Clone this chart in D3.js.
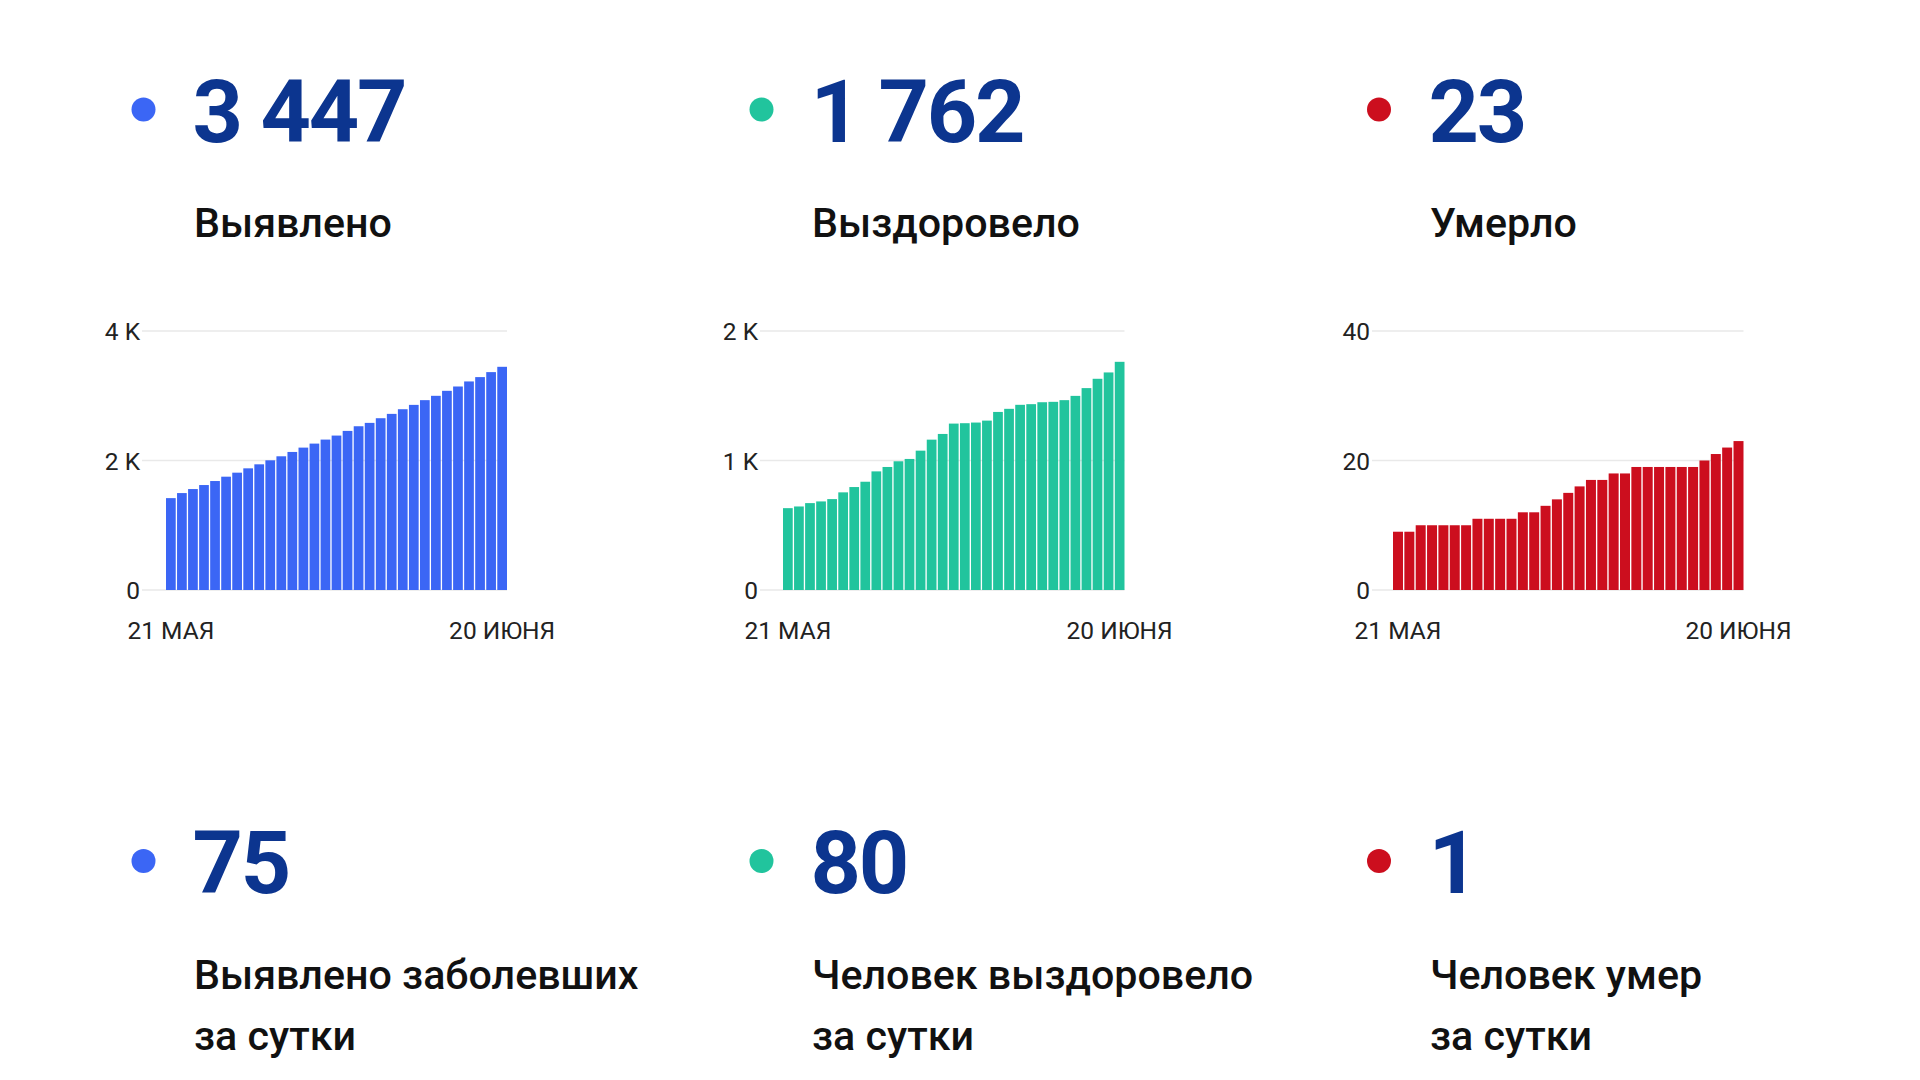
<!DOCTYPE html>
<html>
<head>
<meta charset="utf-8">
<script src="https://cdn.jsdelivr.net/npm/d3@7"></script>
<style>
  html, body { margin: 0; padding: 0; background: #fff; }
  svg { display: block; font-family: Roboto, "Noto Sans", sans-serif; }
</style>
</head>
<body>
<svg id="chart" width="1920" height="1080"></svg>
<script>
// ---------- DATA ----------
const days = ["21.05","22.05","23.05","24.05","25.05","26.05","27.05","28.05","29.05","30.05","31.05",
  "01.06","02.06","03.06","04.06","05.06","06.06","07.06","08.06","09.06","10.06",
  "11.06","12.06","13.06","14.06","15.06","16.06","17.06","18.06","19.06","20.06"];
const dayLabels = {"21.05": "21 МАЯ", "20.06": "20 ИЮНЯ"};

const detected = [1419,1497,1559,1621,1683,1750,1812,1879,1941,2003,2065,2132,2199,2261,2323,2385,
  2457,2529,2581,2653,2720,2792,2859,2932,2999,3076,3143,3221,3288,3365,3447];
const recovered = [632,645,671,684,702,754,795,836,916,950,994,1012,1076,1161,1205,1285,
  1288,1293,1308,1375,1399,1430,1435,1450,1453,1466,1499,1559,1631,1680,1762];
const deaths = [9,9,10,10,10,10,10,11,11,11,11,12,12,13,14,15,16,17,17,18,18,19,19,19,19,19,19,20,21,22,23];

const totals = ["3 447", "1 762", "23"];
const totalLabels = ["Выявлено", "Выздоровело", "Умерло"];
const daily = ["75", "80", "1"];
const dailyLabels = [["Выявлено заболевших", "за сутки"], ["Человек выздоровело", "за сутки"], ["Человек умер", "за сутки"]];

const yMax = [4000, 2000, 40];
const yTicks = [[0, 2000, 4000], [0, 1000, 2000], [0, 20, 40]];
const yTickLabels = [["0", "2 K", "4 K"], ["0", "1 K", "2 K"], ["0", "20", "40"]];

// ---------- STYLE / LAYOUT ----------
const colors = ["#3b66f5", "#21c49d", "#cc0e1e"];
const numColor = "#0c358f";
const textColor = "#111";
const axisColor = "#222";
const colText = [192.5, 810.5, 1428.5];
const colDot = [143.5, 761.5, 1379];
const panels = [
  {grid0: 142, bar0: 166, bar1: 507},
  {grid0: 760, bar0: 783, bar1: 1124.5},
  {grid0: 1372, bar0: 1393, bar1: 1743.5}
];
const yTop = 331, yBottom = 590;

const svg = d3.select("#chart");
const seriesList = [detected, recovered, deaths];

seriesList.forEach((series, i) => {
  const g = svg.append("g");

  // header
  g.append("circle").attr("cx", colDot[i]).attr("cy", 109.5).attr("r", 12).attr("fill", colors[i]);
  g.append("text").attr("x", colText[i]).attr("y", 142)
    .attr("font-size", 88).attr("font-weight", 700).attr("fill", numColor)
    .attr("letter-spacing", -2.2)
    .text(totals[i]);
  g.append("text").attr("x", colText[i] + 1.5).attr("y", 237)
    .attr("font-size", 41.2).attr("font-weight", 500).attr("fill", textColor)
    .text(totalLabels[i]);

  // chart
  const p = panels[i];
  const x = d3.scaleBand().domain(days).range([p.bar0, p.bar1]).paddingInner(0.12).paddingOuter(0);
  const y = d3.scaleLinear().domain([0, yMax[i]]).range([yBottom, yTop]);

  g.append("g").selectAll("line").data(yTicks[i]).join("line")
    .attr("x1", p.grid0).attr("x2", p.bar1)
    .attr("y1", d => y(d)).attr("y2", d => y(d))
    .attr("stroke", "#e9e9e9").attr("stroke-width", 1.5);

  g.append("g").selectAll("rect").data(series.map((v, k) => ({v, d: days[k]}))).join("rect")
    .attr("x", d => x(d.d)).attr("width", x.bandwidth())
    .attr("y", d => y(d.v)).attr("height", d => y(0) - y(d.v))
    .attr("fill", colors[i]);

  const yAxis = g.append("g").attr("transform", `translate(${p.grid0 - 2},0)`)
    .call(d3.axisLeft(y).tickValues(yTicks[i]).tickSize(0).tickPadding(0)
      .tickFormat((d, k) => yTickLabels[i][k]));
  yAxis.select(".domain").remove();
  yAxis.selectAll("text").attr("font-family", "Roboto").attr("font-size", 24.5)
    .attr("fill", axisColor).attr("dy", "0.36em");

  const xAxis = g.append("g").attr("transform", `translate(0,${yBottom})`)
    .call(d3.axisBottom(x).tickValues([days[0], days[days.length - 1]]).tickSize(0)
      .tickFormat(d => dayLabels[d]));
  xAxis.select(".domain").remove();
  xAxis.selectAll("text").attr("font-family", "Roboto").attr("font-size", 24.5)
    .attr("fill", axisColor).attr("y", 49).attr("dy", 0);

  // daily block
  g.append("circle").attr("cx", colDot[i]).attr("cy", 861).attr("r", 12).attr("fill", colors[i]);
  g.append("text").attr("x", colText[i]).attr("y", 893)
    .attr("font-size", 88).attr("font-weight", 700).attr("fill", numColor)
    .attr("letter-spacing", -2.2)
    .text(daily[i]);
  dailyLabels[i].forEach((line, k) => {
    g.append("text").attr("x", colText[i] + 1.5).attr("y", 989 + k * 61)
      .attr("font-size", 41.2).attr("font-weight", 500).attr("fill", textColor)
      .text(line);
  });
});
</script>
</body>
</html>
